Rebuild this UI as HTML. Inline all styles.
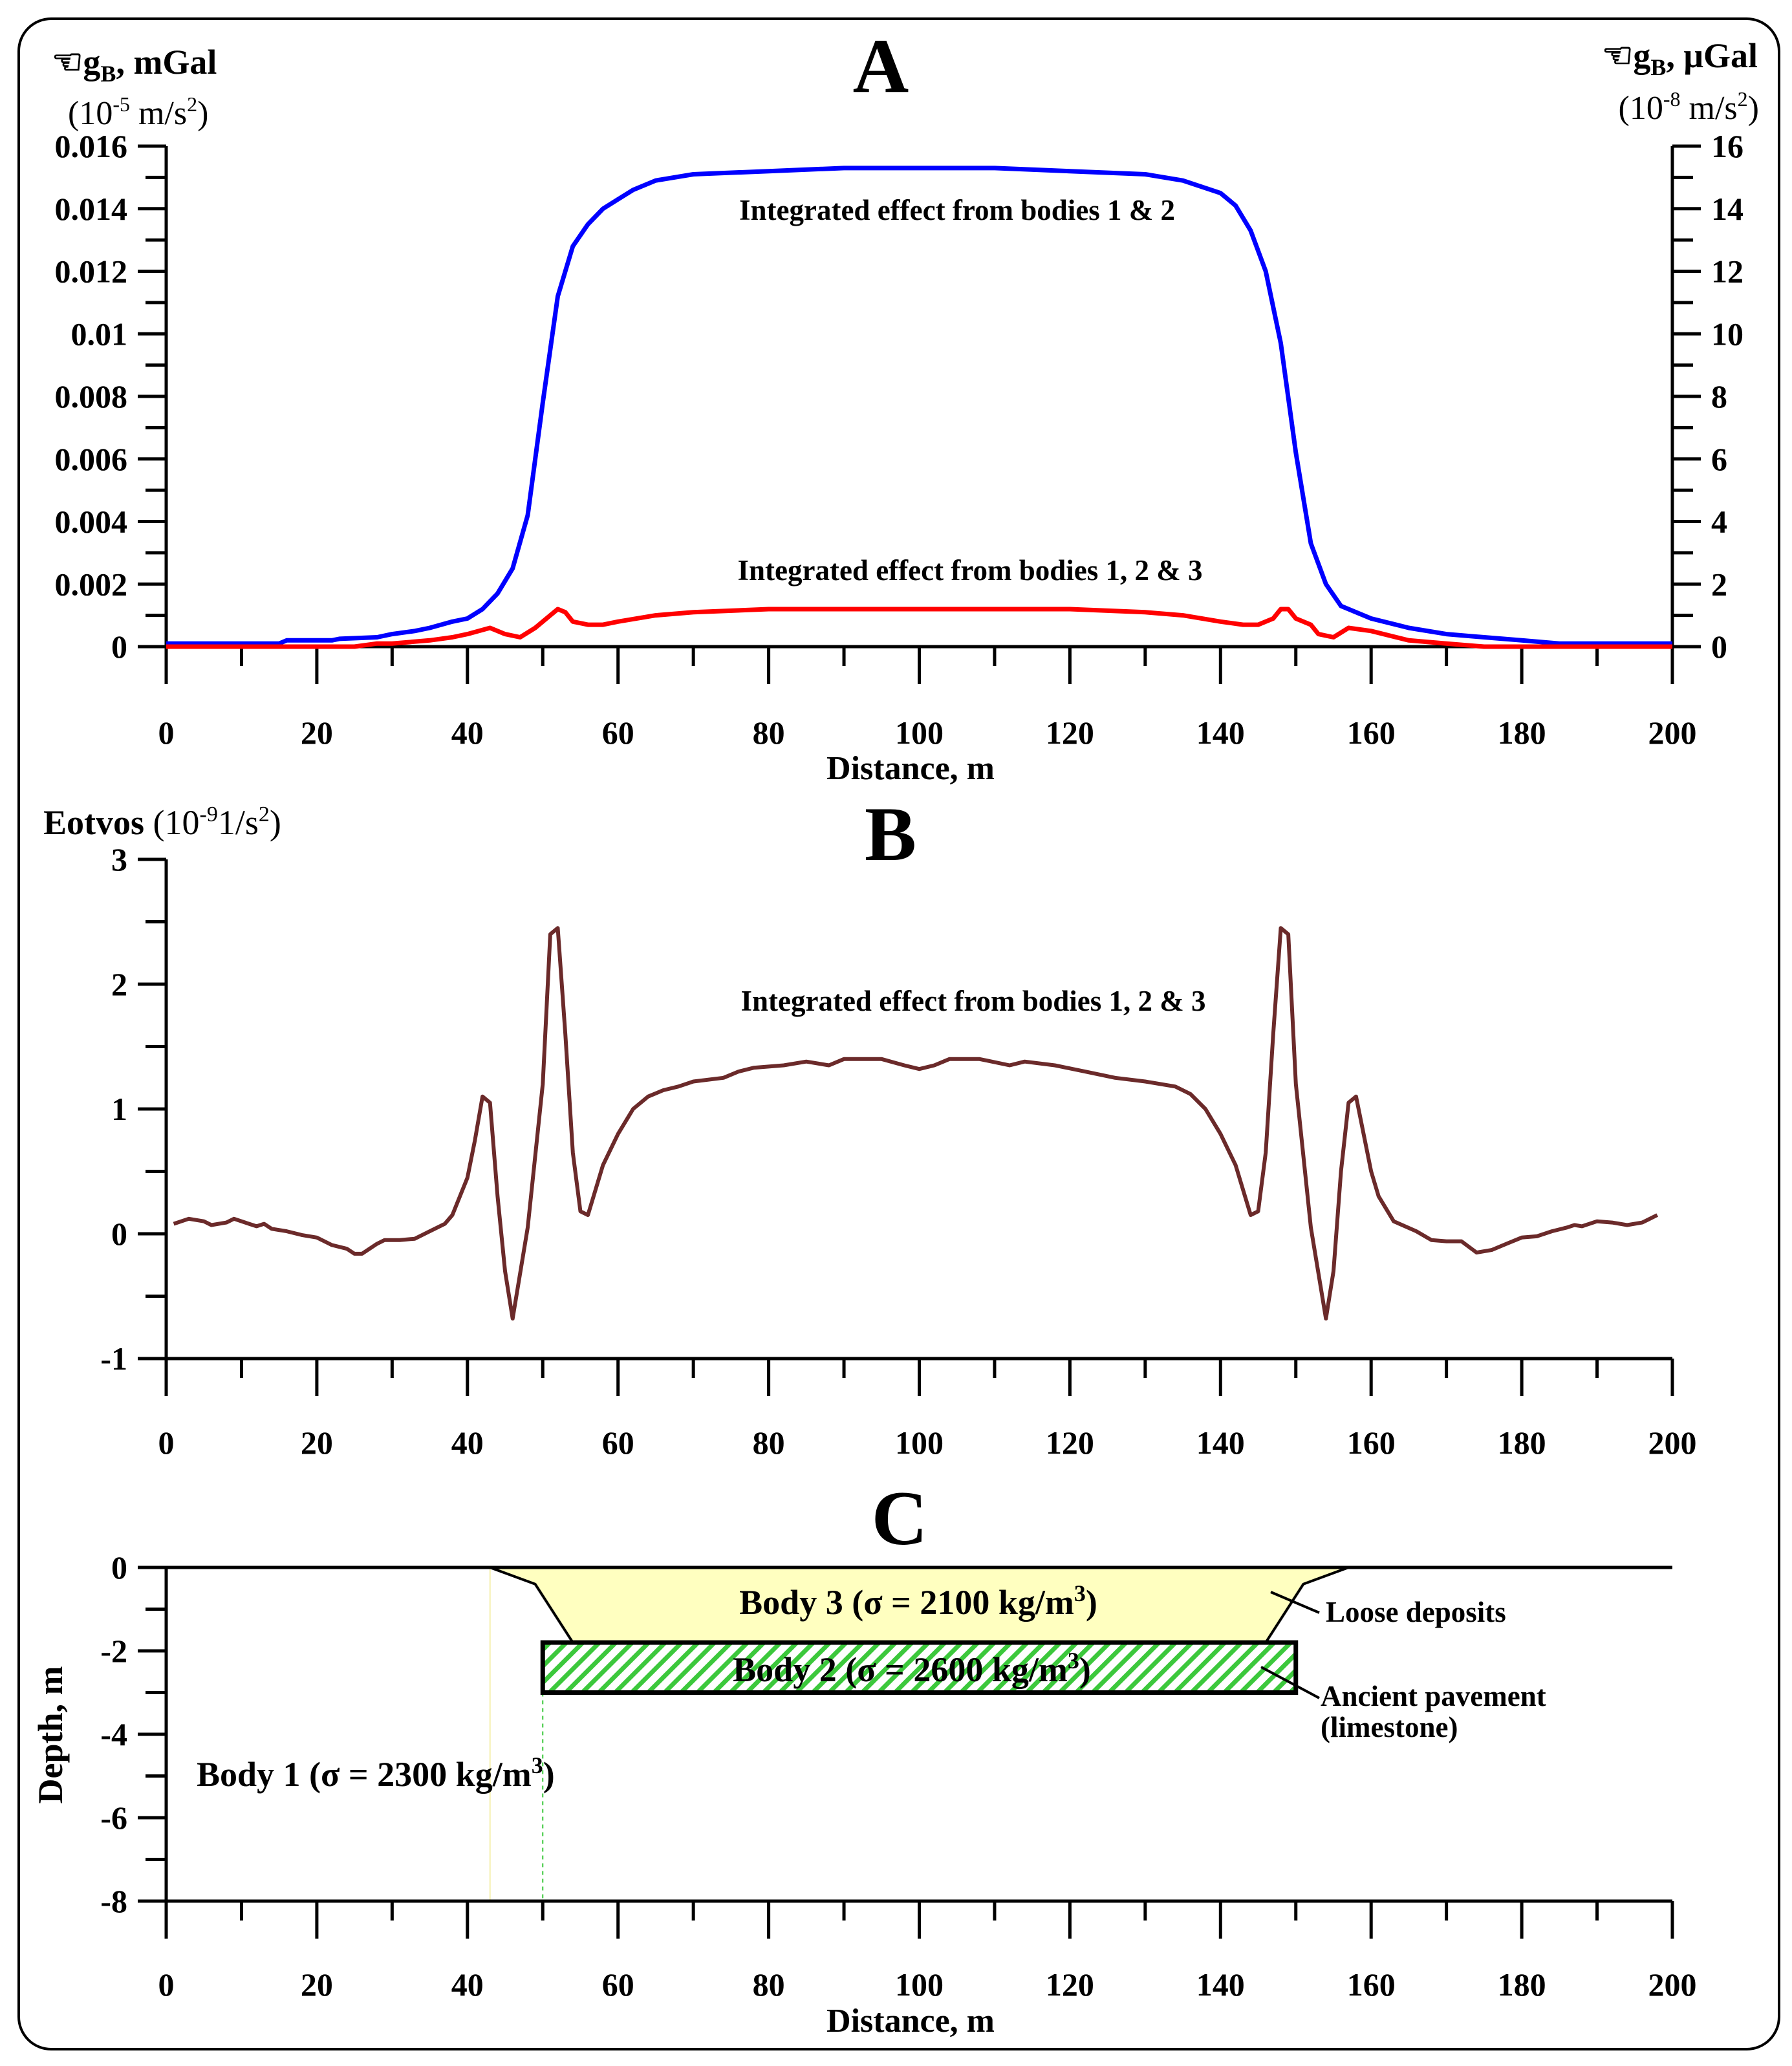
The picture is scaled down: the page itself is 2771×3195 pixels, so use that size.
<!DOCTYPE html>
<html><head><meta charset="utf-8">
<style>
html,body{margin:0;padding:0;background:#fff;}
svg{display:block;}
text{font-family:"Liberation Serif",serif;font-weight:bold;fill:#000;}
.tk{font-size:50px;}
.ann{font-size:45px;}
.nb{font-weight:normal;}
</style></head>
<body>
<svg id="fig" xmlns="http://www.w3.org/2000/svg" width="2771" height="3195" viewBox="0 0 2771 3195">
<defs>
<pattern id="hatch" patternUnits="userSpaceOnUse" width="18" height="18" patternTransform="rotate(45)">
<rect width="18" height="18" fill="#fff"/>
<rect width="7" height="18" fill="#3cc83c"/>
</pattern>
</defs>
<rect x="29" y="29" width="2722" height="3140" rx="50" fill="none" stroke="#000" stroke-width="4"/>
<g id="gA"></g>
<g id="gB"></g>
<g id="gC"></g>

<text x="1362" y="142" font-size="120" text-anchor="middle">A</text>
<text x="1377" y="1330" font-size="120" text-anchor="middle">B</text>
<text x="1391" y="2388" font-size="120" text-anchor="middle">C</text>

<text x="80" y="114" font-size="54">☜<tspan>g</tspan><tspan font-size="36" dy="12">B</tspan><tspan dy="-12">, mGal</tspan></text>
<text x="105" y="192" font-size="52" class="nb">(10<tspan font-size="32" dy="-20">-5</tspan><tspan dy="20"> m/s</tspan><tspan font-size="32" dy="-20">2</tspan><tspan dy="20">)</tspan></text>
<text x="2718" y="104" font-size="54" text-anchor="end">☜<tspan>g</tspan><tspan font-size="36" dy="12">B</tspan><tspan dy="-12">, μGal</tspan></text>
<text x="2720" y="184" font-size="52" class="nb" text-anchor="end">(10<tspan font-size="32" dy="-20">-8</tspan><tspan dy="20"> m/s</tspan><tspan font-size="32" dy="-20">2</tspan><tspan dy="20">)</tspan></text>
<text x="67" y="1290" font-size="54">Eotvos <tspan class="nb">(10</tspan><tspan class="nb" font-size="34" dy="-20">-9</tspan><tspan class="nb" dy="20">1/s</tspan><tspan class="nb" font-size="34" dy="-20">2</tspan><tspan class="nb" dy="20">)</tspan></text>
<text x="1408" y="1205" font-size="52" text-anchor="middle">Distance, m</text>
<text x="1408" y="3142" font-size="52" text-anchor="middle">Distance, m</text>
<text transform="translate(96,2683) rotate(-90)" font-size="54" text-anchor="middle">Depth, m</text>

<text class="ann" x="1480" y="340" text-anchor="middle">Integrated effect from bodies 1 &amp; 2</text>
<text class="ann" x="1500" y="897" text-anchor="middle">Integrated effect from bodies 1, 2 &amp; 3</text>
<text class="ann" x="1505" y="1563" text-anchor="middle">Integrated effect from bodies 1, 2 &amp; 3</text>
</svg>
<script>
// ---- Panel A data ----
const distA = [0,15,16,22,23,28,30,33,35,38,40,42,44,46,48,50,52,54,56,58,60,62,65,70,80,90,110,120,130,135,140,142,144,146,148,150,152,154,156,160,165,170,175,180,185,200];
const blueVals = [0.0001,0.0001,0.0002,0.0002,0.00025,0.0003,0.0004,0.0005,0.0006,0.0008,0.0009,0.0012,0.0017,0.0025,0.0042,0.0078,0.0112,0.0128,0.0135,0.0140,0.0143,0.0146,0.0149,0.0151,0.0152,0.0153,0.0153,0.0152,0.0151,0.0149,0.0145,0.0141,0.0133,0.0120,0.0097,0.0062,0.0033,0.0020,0.0013,0.0009,0.0006,0.0004,0.0003,0.0002,0.0001,0.0001];
const distRed = [0,25,28,30,35,38,40,43,45,47,49,51,52,53,54,56,58,60,65,70,80,120,130,135,140,143,145,147,148,149,150,152,153,155,157,160,165,170,175,200];
const redVals = [0,0,0.0001,0.0001,0.0002,0.0003,0.0004,0.0006,0.0004,0.0003,0.0006,0.0010,0.0012,0.0011,0.0008,0.0007,0.0007,0.0008,0.0010,0.0011,0.0012,0.0012,0.0011,0.0010,0.0008,0.0007,0.0007,0.0009,0.0012,0.0012,0.0009,0.0007,0.0004,0.0003,0.0006,0.0005,0.0002,0.0001,0,0];
const yTicksA = [0,0.002,0.004,0.006,0.008,0.01,0.012,0.014,0.016];
const yTickLabelsA = ["0","0.002","0.004","0.006","0.008","0.01","0.012","0.014","0.016"];
const yTickLabelsA2 = ["0","2","4","6","8","10","12","14","16"];
const xTicks = [0,20,40,60,80,100,120,140,160,180,200];
// ---- Panel B data ----
const distB = [1,3,5,6,8,9,11,12,13,14,16,18,20,22,24,25,26,28,29,31,33,35,37,38,40,41,42,43,44,45,46,48,50,51,52,53,54,55,56,58,60,62,64,66,68,70,74,76,78,82,85,88,90,95,98,100,102,104,108,112,114,118,122,126,130,134,136,138,140,142,144,145,146,147,148,149,150,152,154,155,156,157,158,160,161,163,166,168,170,172,174,176,178,180,182,184,186,187,188,190,192,194,196,197,198];
const eotvosVals = [0.08,0.12,0.10,0.07,0.09,0.12,0.08,0.06,0.08,0.04,0.02,-0.01,-0.03,-0.09,-0.12,-0.16,-0.16,-0.08,-0.05,-0.05,-0.04,0.02,0.08,0.15,0.45,0.75,1.1,1.05,0.3,-0.3,-0.68,0.05,1.2,2.4,2.45,1.6,0.65,0.18,0.15,0.55,0.8,1.0,1.1,1.15,1.18,1.22,1.25,1.3,1.33,1.35,1.38,1.35,1.4,1.4,1.35,1.32,1.35,1.4,1.4,1.35,1.38,1.35,1.3,1.25,1.22,1.18,1.12,1.0,0.8,0.55,0.15,0.18,0.65,1.6,2.45,2.4,1.2,0.05,-0.68,-0.3,0.5,1.05,1.1,0.5,0.3,0.1,0.02,-0.05,-0.06,-0.06,-0.15,-0.13,-0.08,-0.03,-0.02,0.02,0.05,0.07,0.06,0.1,0.09,0.07,0.09,0.12,0.15];
const yTicksB = [-1,0,1,2,3];
// ---- Panel C data ----
const loosePoly = [[43,0],[49,-0.4],[54,-1.8],[146,-1.8],[151,-0.4],[157,0]];
const pavement = {x0:50,x1:150,top:-1.8,bottom:-3};
const yTicksC = [-8,-6,-4,-2,0];

const NS="http://www.w3.org/2000/svg";
function el(tag,attrs,parent,txt){const e=document.createElementNS(NS,tag);for(const k in attrs)e.setAttribute(k,attrs[k]);if(txt!==undefined)e.textContent=txt;parent.appendChild(e);return e;}
const X0=257,X1=2586;
const X=v=>X0+(v/200)*(X1-X0);
const YA=v=>1000-v/0.016*774;
const YB=v=>1908-v*193;
function yC(v){return 2424-v*64.5;}
const gA=document.getElementById('gA'),gB=document.getElementById('gB'),gC=document.getElementById('gC');

function xAxis(g,yAx,labY,name){
  const ax=el('line',{x1:X0,y1:yAx,x2:X1,y2:yAx,stroke:'#000','stroke-width':5},g);
  
  
  for(let v=0;v<=200;v+=10){
    const major=v%20===0;
    const t=el('line',{x1:X(v),y1:yAx,x2:X(v),y2:yAx+(major?58:30),stroke:'#000','stroke-width':5},g);
    
    
  }
  xTicks.forEach(v=>{
    const t=el('text',{x:X(v),y:labY,'text-anchor':'middle',class:'tk'},g,String(v));
    
    
  });
}
function yAxis(g,x,yTop,yBot,ticks,labels,Y,side,minorStep,name){
  const ax=el('line',{x1:x,y1:yTop,x2:x,y2:yBot+(name==='panel-a-right'?0:58),stroke:'#000','stroke-width':5},g);
  
  
  const lo=ticks[0],hi=ticks[ticks.length-1];
  for(let v=lo;v<=hi+1e-9;v+=minorStep){
    const isMaj=ticks.some(t=>Math.abs(t-v)<1e-9);
    const len=isMaj?44:32;
    const t=el('line',{x1:x,y1:Y(v),x2:x+side*len,y2:Y(v),stroke:'#000','stroke-width':5},g);
    
    
  }
  ticks.forEach((v,i)=>{
    const t=el('text',{x:x+side*60,y:Y(v)+17,'text-anchor':side<0?'end':'start',class:'tk'},g,labels[i]);
    
    
  });
}
function pts(xs,ys,Y){return xs.map((d,i)=>X(d).toFixed(1)+','+Y(ys[i]).toFixed(1)).join(' ');}

// Panel A
xAxis(gA,1000,1150,'panel-a');
yAxis(gA,X0,226,1000,yTicksA,yTickLabelsA,YA,-1,0.001,'panel-a-left');
yAxis(gA,X1,226,1000,yTicksA,yTickLabelsA2,YA,1,0.001,'panel-a-right');
const blue=el('polyline',{points:pts(distA,blueVals,YA),fill:'none',stroke:'#0000ff','stroke-width':7,'stroke-linejoin':'round'},gA);


const red=el('polyline',{points:pts(distRed,redVals,YA),fill:'none',stroke:'#ff0000','stroke-width':7,'stroke-linejoin':'round'},gA);



// Panel B
xAxis(gB,2101,2248,'panel-b');
yAxis(gB,X0,1329,2101,yTicksB,yTicksB.map(String),YB,-1,0.5,'panel-b');
const eot=el('polyline',{points:pts(distB,eotvosVals,YB),fill:'none',stroke:'#6b2a2a','stroke-width':6,'stroke-linejoin':'round'},gB);



// Panel C
const vl=el('line',{x1:X(43),y1:yC(0),x2:X(43),y2:yC(-8),stroke:'#f6f0b0','stroke-width':2},gC);


const dl=el('line',{x1:X(50),y1:yC(-3),x2:X(50),y2:yC(-8),stroke:'#3cc83c','stroke-width':2,'stroke-dasharray':'6,6'},gC);


const poly=el('polygon',{points:loosePoly.map(p=>X(p[0]).toFixed(1)+','+yC(p[1]).toFixed(1)).join(' '),fill:'#ffffc0',stroke:'#000','stroke-width':4},gC);


const rect=el('rect',{x:X(pavement.x0),y:yC(pavement.top),width:X(pavement.x1)-X(pavement.x0),height:yC(pavement.bottom)-yC(pavement.top),fill:'url(#hatch)',stroke:'#000','stroke-width':7},gC);


xAxis(gC,yC(-8),3086,'panel-c');
const topLine=el('line',{x1:X0,y1:yC(0),x2:X1,y2:yC(0),stroke:'#000','stroke-width':5},gC);


yAxis(gC,X0,yC(0),yC(-8),yTicksC,yTicksC.map(String),yC,-1,1,'panel-c');

function txt(g,x,y,s,name,anchor,size){const t=el('text',{x:x,y:y,'text-anchor':anchor||'start','font-size':size||46},g);t.innerHTML=s;return t;}
txt(gC,304,2762,'Body 1 (σ = 2300 kg/m<tspan font-size="36" dy="-20">3</tspan><tspan dy="20">)</tspan>','body-1-label','start',54);
txt(gC,1420,2496,'Body 3 (σ = 2100 kg/m<tspan font-size="36" dy="-20">3</tspan><tspan dy="20">)</tspan>','body-3-label','middle',54);
txt(gC,1410,2600,'Body 2 (σ = 2600 kg/m<tspan font-size="36" dy="-20">3</tspan><tspan dy="20">)</tspan>','body-2-label','middle',54);
txt(gC,2050,2508,'Loose deposits','loose-deposits-label','start',45);
txt(gC,2042,2638,'Ancient pavement','ancient-pavement-label','start',45);
txt(gC,2042,2686,'(limestone)','limestone-label','start',45);
const l1=el('line',{x1:1965,y1:2462,x2:2040,y2:2494,stroke:'#000','stroke-width':4},gC);


const l2=el('line',{x1:1950,y1:2578,x2:2040,y2:2626,stroke:'#000','stroke-width':4},gC);


</script>
</body></html>
